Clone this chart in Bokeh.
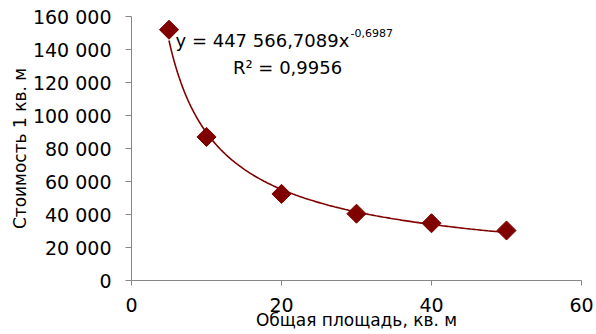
import numpy as np
from bokeh.plotting import figure
from bokeh.models import Range1d, Label, FixedTicker, CustomJSTickFormatter
from bokeh.embed import file_html
from bokeh.resources import INLINE

area = [5, 10, 20, 30, 40, 50]
price = [152000, 87000, 52500, 40500, 34700, 30300]
x_ticks = [0, 20, 40, 60]
y_ticks = [0, 20000, 40000, 60000, 80000, 100000, 120000, 140000, 160000]
eq_main = "y = 447 566,7089x"
eq_exp = "-0,6987"
r2_text = "R² = 0,9956"
x_title = "Общая площадь, кв. м"
y_title = "Стоимость 1 кв. м"

FONT = "DejaVu Sans"
RED = "#800000"
GRAY = "#868686"

p = figure(width=596, height=334, output_backend="svg", toolbar_location=None,
           x_range=Range1d(0, 60), y_range=Range1d(0, 160000),
           min_border_left=131, min_border_right=15, min_border_top=16, min_border_bottom=54)
p.outline_line_color = None
p.xgrid.visible = False
p.ygrid.visible = False

# power trendline fitted from the data (least squares in log space)
b, lna = np.polyfit(np.log(area), np.log(price), 1)
xs = np.linspace(area[0], area[-1], 200)
ys = np.exp(lna) * xs ** b
p.line(xs, ys, line_color=RED, line_width=1.6)
p.scatter(area, price, marker="square", angle=np.pi / 4, size=13.5,
          fill_color=RED, line_color=RED)

for ax in (p.xaxis[0], p.yaxis[0]):
    ax.axis_line_color = GRAY
    ax.major_tick_line_color = GRAY
    ax.minor_tick_line_color = None
    ax.major_label_text_font = FONT
    ax.major_label_text_font_size = "19px"
    ax.major_label_text_color = "#000000"
    ax.axis_label_text_font = FONT
    ax.axis_label_text_font_size = "17px"
    ax.axis_label_text_font_style = "normal"
    ax.axis_label_text_color = "#000000"

p.xaxis.ticker = FixedTicker(ticks=x_ticks)
p.yaxis.ticker = FixedTicker(ticks=y_ticks)
p.xaxis.major_tick_in = 0
p.xaxis.major_tick_out = 5
p.yaxis.major_tick_in = 0
p.yaxis.major_tick_out = 6
p.xaxis.major_label_standoff = 12
p.yaxis.major_label_standoff = 14
p.yaxis.formatter = CustomJSTickFormatter(code="""
    return tick.toFixed(0).replace(/\\B(?=(\\d{3})+(?!\\d))/g, ' ');
""")
p.xaxis.axis_label = x_title
p.yaxis.axis_label = y_title
p.xaxis.axis_label_standoff = -5
p.yaxis.axis_label_standoff = 0

eq1 = Label(x=5.87, y=145500, text=eq_main,
            text_font=FONT, text_font_size="18px", text_color="#000000",
            text_baseline="alphabetic")
p.add_layout(eq1)
eq2 = Label(x=29.2, y=149800, text=eq_exp,
            text_font=FONT, text_font_size="11px", text_color="#000000",
            text_baseline="alphabetic")
p.add_layout(eq2)
r2 = Label(x=20.8, y=129100, text=r2_text,
           text_font=FONT, text_font_size="18px", text_color="#000000",
           text_align="center", text_baseline="alphabetic")
p.add_layout(r2)

open("out.html", "w").write(file_html(p, INLINE))
